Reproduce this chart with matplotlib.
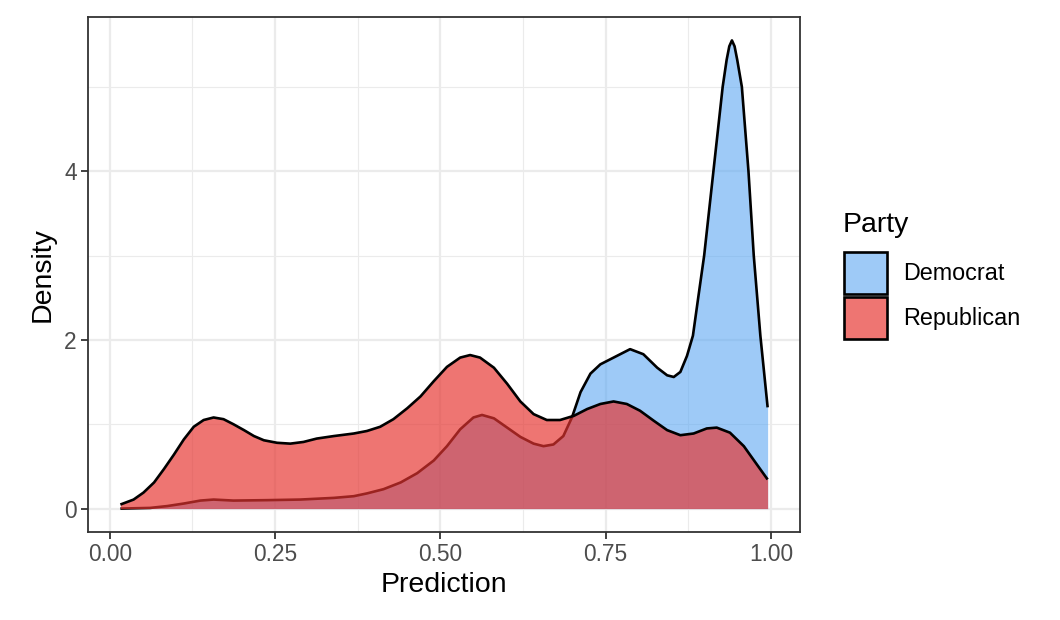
import matplotlib
matplotlib.use('Agg')
import matplotlib.pyplot as plt
from matplotlib.patches import Rectangle

# Density curves (x = prediction, y = density)
dem_x = [0.016, 0.061, 0.087, 0.112, 0.137, 0.157, 0.187, 0.238, 0.288, 0.339,
         0.369, 0.389, 0.414, 0.440, 0.465, 0.490, 0.510, 0.530, 0.550, 0.563,
         0.581, 0.601, 0.621, 0.641, 0.656, 0.671, 0.686, 0.699, 0.712, 0.727,
         0.742, 0.762, 0.787, 0.807, 0.828, 0.843, 0.853, 0.863, 0.873, 0.882,
         0.890, 0.899, 0.913, 0.927, 0.933, 0.937, 0.941, 0.945, 0.949, 0.956,
         0.966, 0.974, 0.984, 0.995]
dem_y = [0.00, 0.008, 0.03, 0.06, 0.095, 0.107, 0.095, 0.10, 0.107, 0.127,
         0.147, 0.18, 0.23, 0.31, 0.42, 0.57, 0.74, 0.94, 1.08, 1.11,
         1.07, 0.96, 0.85, 0.77, 0.74, 0.76, 0.86, 1.08, 1.38, 1.60,
         1.71, 1.79, 1.89, 1.83, 1.67, 1.58, 1.56, 1.62, 1.81, 2.05,
         2.50, 3.00, 4.00, 5.00, 5.32, 5.48, 5.55, 5.48, 5.32, 5.00,
         4.00, 3.00, 2.05, 1.20]

rep_x = [0.016, 0.036, 0.051, 0.067, 0.082, 0.097, 0.112, 0.127, 0.142, 0.157,
         0.172, 0.187, 0.203, 0.218, 0.233, 0.253, 0.273, 0.293, 0.313, 0.339,
         0.369, 0.389, 0.409, 0.429, 0.450, 0.470, 0.490, 0.510, 0.530, 0.545,
         0.560, 0.581, 0.601, 0.621, 0.641, 0.661, 0.681, 0.702, 0.722, 0.742,
         0.762, 0.782, 0.802, 0.823, 0.843, 0.863, 0.883, 0.903, 0.918, 0.938,
         0.959, 0.979, 0.995]
rep_y = [0.048, 0.107, 0.19, 0.31, 0.47, 0.64, 0.82, 0.97, 1.05, 1.08,
         1.06, 1.00, 0.93, 0.86, 0.81, 0.78, 0.77, 0.79, 0.83, 0.86,
         0.89, 0.92, 0.97, 1.06, 1.19, 1.33, 1.51, 1.68, 1.79, 1.82,
         1.79, 1.67, 1.48, 1.27, 1.12, 1.05, 1.05, 1.10, 1.18, 1.24,
         1.27, 1.24, 1.16, 1.04, 0.93, 0.87, 0.89, 0.95, 0.96, 0.90,
         0.74, 0.52, 0.345]

parties = ['Democrat', 'Republican']
fills = {'Democrat': ('#5DA8F3', 0.6), 'Republican': ('#E63430', 0.68)}

plt.rcParams['font.family'] = ['Liberation Sans', 'DejaVu Sans']

W, H = 1060, 620
fig = plt.figure(figsize=(W / 100, H / 100), dpi=100)
ax = fig.add_axes([88 / W, (H - 532) / H, (800 - 88) / W, (532 - 17) / H])

# grid (theme_bw look)
for v in [0.125, 0.375, 0.625, 0.875]:
    ax.axvline(v, color='#EBEBEB', lw=0.8, zorder=0)
for v in [1, 3, 5]:
    ax.axhline(v, color='#EBEBEB', lw=0.8, zorder=0)
for v in [0, 0.25, 0.5, 0.75, 1.0]:
    ax.axvline(v, color='#EBEBEB', lw=1.6, zorder=0)
for v in [0, 2, 4]:
    ax.axhline(v, color='#EBEBEB', lw=1.6, zorder=0)

series = {'Democrat': (dem_x, dem_y), 'Republican': (rep_x, rep_y)}
for i, p in enumerate(parties):
    xs, ys = series[p]
    col, a = fills[p]
    ax.fill_between(xs, 0, ys, color=col, alpha=a, lw=0, zorder=2 + 2 * i)
    ax.plot(xs, ys, color='black', lw=1.9, zorder=3 + 2 * i,
            solid_capstyle='butt', solid_joinstyle='round')

xmin, xmax = 0.016, 0.995
pad = (xmax - xmin) * 0.05
ax.set_xlim(xmin - pad, xmax + pad)
ymax = max(dem_y)
ax.set_ylim(-0.05 * ymax, ymax * 1.05)

ax.set_xticks([0, 0.25, 0.5, 0.75, 1.0])
ax.set_xticklabels(['0.00', '0.25', '0.50', '0.75', '1.00'])
ax.set_yticks([0, 2, 4])
ax.tick_params(direction='out', length=5, width=1.3, color='#333333',
               labelsize=16.4, labelcolor='#4D4D4D', pad=3)
for s in ax.spines.values():
    s.set_color('#333333')
    s.set_linewidth(1.3)
    s.set_zorder(10)

ax.set_xlabel('Prediction', fontsize=20.5, color='black', labelpad=4)
ax.set_ylabel('Density', fontsize=20.5, color='black', labelpad=6)

# legend drawn by hand
fig.text(843 / W, 1 - 225 / H, 'Party', fontsize=20.5, ha='left', va='center')
keys_y = [252, 297]
for p, ky in zip(parties, keys_y):
    col, a = fills[p]
    fig.add_artist(Rectangle((844 / W, 1 - (ky + 42) / H), 43 / W, 42 / H,
                             transform=fig.transFigure, facecolor=col, alpha=a,
                             edgecolor='none'))
    fig.add_artist(Rectangle((844 / W, 1 - (ky + 42) / H), 43 / W, 42 / H,
                             transform=fig.transFigure, facecolor='none',
                             edgecolor='black', lw=1.9))
    fig.text(903 / W, 1 - (ky + 21) / H, p, fontsize=16.8, ha='left', va='center')

fig.savefig('out.png', dpi=100, facecolor='white')
